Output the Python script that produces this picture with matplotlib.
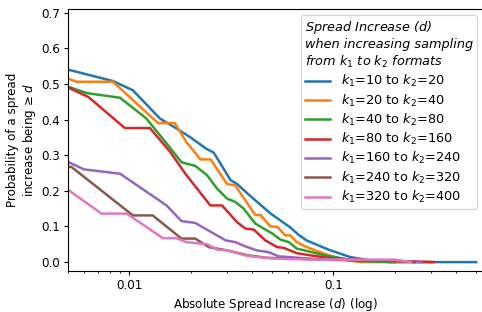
import matplotlib
matplotlib.use("Agg")
import matplotlib.pyplot as plt
from matplotlib.ticker import FixedLocator, FuncFormatter, NullFormatter, LogLocator

plt.rcParams['font.size'] = 8.6
plt.rcParams['xtick.major.size'] = 3.0
plt.rcParams['ytick.major.size'] = 3.0
plt.rcParams['xtick.minor.size'] = 1.7
plt.rcParams['xtick.major.pad'] = 2.8
plt.rcParams['ytick.major.pad'] = 2.8

labels = ["$k_1$=10 to $k_2$=20", "$k_1$=20 to $k_2$=40", "$k_1$=40 to $k_2$=80",
          "$k_1$=80 to $k_2$=160", "$k_1$=160 to $k_2$=240", "$k_1$=240 to $k_2$=320",
          "$k_1$=320 to $k_2$=400"]

d_blue = [0.005, 0.0083, 0.0104, 0.0141, 0.017, 0.0199, 0.0238, 0.0259, 0.0313, 0.0337, 0.0392, 0.049,
          0.0615, 0.0676, 0.0743, 0.0945, 0.121, 0.146, 0.19, 0.5]
p_blue = [0.54, 0.508, 0.482, 0.403, 0.375, 0.35, 0.318, 0.307, 0.23, 0.219, 0.185, 0.137,
          0.097, 0.076, 0.06, 0.035, 0.014, 0.006, 0.0, 0.0]

d_orange = [0.005, 0.0055, 0.0083, 0.0138, 0.0167, 0.019, 0.0223, 0.025, 0.0301, 0.033, 0.0414, 0.044,
            0.049, 0.053, 0.058, 0.0615, 0.066, 0.074, 0.083, 0.095, 0.117, 0.136, 0.3]
p_orange = [0.515, 0.506, 0.506, 0.39, 0.39, 0.337, 0.288, 0.288, 0.219, 0.215, 0.132, 0.132,
            0.10, 0.099, 0.075, 0.075, 0.056, 0.042, 0.031, 0.019, 0.005, 0.0, 0.0]

d_green = [0.005, 0.0062, 0.009, 0.0121, 0.0152, 0.018, 0.021, 0.024, 0.0269, 0.0301, 0.033, 0.0363,
           0.0414, 0.0455, 0.0502, 0.055, 0.0604, 0.066, 0.0743, 0.0863, 0.097, 0.13, 0.2]
p_green = [0.492, 0.474, 0.461, 0.403, 0.333, 0.28, 0.27, 0.244, 0.206, 0.178, 0.169, 0.15,
           0.108, 0.094, 0.08, 0.063, 0.056, 0.038, 0.031, 0.022, 0.016, 0.003, 0.0]

d_red = [0.005, 0.0063, 0.0095, 0.0126, 0.0158, 0.0188, 0.0249, 0.0284, 0.0337, 0.037, 0.0407, 0.0463,
         0.053, 0.057, 0.066, 0.077, 0.1, 0.15, 0.2, 0.31]
p_red = [0.49, 0.463, 0.376, 0.376, 0.31, 0.248, 0.159, 0.159, 0.112, 0.094, 0.091, 0.061,
         0.042, 0.04, 0.025, 0.019, 0.01, 0.005, 0.003, 0.0]

d_purple = [0.005, 0.006, 0.009, 0.0152, 0.018, 0.021, 0.024, 0.0296, 0.033, 0.037, 0.042, 0.048,
            0.054, 0.061, 0.074, 0.1, 0.2, 0.27]
p_purple = [0.281, 0.26, 0.248, 0.159, 0.115, 0.11, 0.091, 0.061, 0.056, 0.044, 0.033, 0.028,
            0.016, 0.014, 0.01, 0.007, 0.003, 0.0]

d_brown = [0.005, 0.0052, 0.0104, 0.013, 0.018, 0.021, 0.0245, 0.03, 0.038, 0.047, 0.063, 0.1, 0.2, 0.25]
p_brown = [0.267, 0.267, 0.131, 0.131, 0.066, 0.066, 0.042, 0.033, 0.019, 0.012, 0.01, 0.006, 0.004, 0.0]

d_pink = [0.005, 0.0073, 0.0097, 0.0146, 0.017, 0.019, 0.024, 0.027, 0.03, 0.038, 0.051, 0.077, 0.1, 0.2, 0.24]
p_pink = [0.203, 0.136, 0.136, 0.067, 0.067, 0.056, 0.05, 0.035, 0.033, 0.017, 0.01, 0.007, 0.007, 0.007, 0.0]

series = [(d_blue, p_blue), (d_orange, p_orange), (d_green, p_green), (d_red, p_red),
          (d_purple, p_purple), (d_brown, p_brown), (d_pink, p_pink)]
colors = ['#1f77b4', '#ff7f0e', '#2ca02c', '#d62728', '#9467bd', '#8c564b', '#e377c2']

fig = plt.figure(figsize=(4.82, 3.12), dpi=100)
ax = fig.add_axes([0.141, 0.1314, 0.861, 0.8397])

for (d, p), c, lab in zip(series, colors, labels):
    ax.plot(d, p, color=c, lw=1.8, label=lab)

ax.set_xscale('log')
ax.set_xlim(0.005, 0.54)
ax.set_ylim(-0.025, 0.71)
ax.set_yticks([0.0, 0.1, 0.2, 0.3, 0.4, 0.5, 0.6, 0.7])
ax.xaxis.set_major_locator(FixedLocator([0.01, 0.1]))
ax.xaxis.set_major_formatter(FuncFormatter(lambda v, pos: f"{v:g}"))
ax.xaxis.set_minor_locator(LogLocator(base=10, subs=range(2, 10)))
ax.xaxis.set_minor_formatter(NullFormatter())

ax.set_xlabel("Absolute Spread Increase ($d$) (log)", labelpad=2.5)
ax.set_ylabel("Probability of a spread\nincrease being ≥ $d$", labelpad=2.0)

leg = ax.legend(loc='upper right', fontsize=9.3, labelspacing=0.25, borderpad=0.3,
                title="Spread Increase ($d$)\nwhen increasing sampling\nfrom $k_1$ to $k_2$ formats",
                title_fontproperties={'style': 'italic', 'size': 9.3}, alignment='left')

fig.savefig("out.png", dpi=100)
